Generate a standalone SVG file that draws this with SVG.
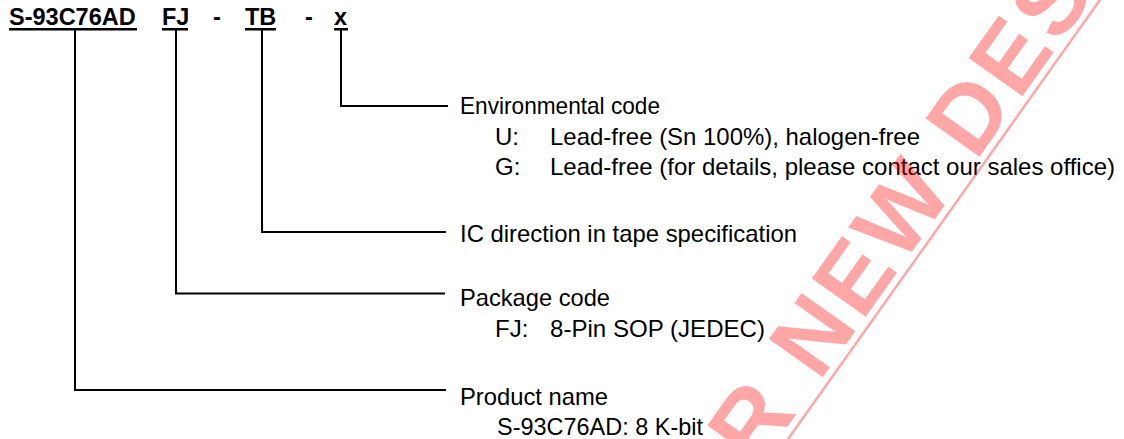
<svg xmlns="http://www.w3.org/2000/svg" width="1124" height="439" viewBox="0 0 1124 439">
  <style>
    .hdr { font-family: "Liberation Sans", Arial, sans-serif; font-size: 23.5px; font-weight: bold; fill: #000; }
    .txt { font-family: "Liberation Sans", Arial, sans-serif; font-size: 24px; fill: #000; }
    .ul { fill: #000; }
    .conn { fill: none; stroke: #000; stroke-width: 2; }
    .wm { font-family: "Liberation Sans", Arial, sans-serif; font-size: 96px; font-weight: bold; fill: #ff0000; fill-opacity: 0.35; letter-spacing: 5px; }
    .wmline { stroke: #ff0000; stroke-opacity: 0.35; stroke-width: 2.5; }
  </style>
  <rect width="1124" height="439" fill="#fff"/>

  <g id="header">
    <text class="hdr" x="9" y="25">S-93C76AD</text>
    <rect class="ul" x="9" y="28" width="128" height="2.5"/>
    <text class="hdr" x="162" y="25">FJ</text>
    <rect class="ul" x="162" y="28" width="26" height="2.5"/>
    <text class="hdr" x="213" y="25">-</text>
    <text class="hdr" x="245" y="25">TB</text>
    <rect class="ul" x="245" y="28" width="31" height="2.5"/>
    <text class="hdr" x="305" y="25">-</text>
    <text class="hdr" x="334" y="25">x</text>
    <rect class="ul" x="334" y="28" width="14" height="2.5"/>
  </g>

  <g id="connectors">
    <polyline class="conn" points="341,30 341,106 448,106"/>
    <polyline class="conn" points="262,30 262,232 446,232"/>
    <polyline class="conn" points="176,30 176,293.5 445,293.5"/>
    <polyline class="conn" points="75,30 75,390 446,390"/>
  </g>

  <g id="env-code">
    <text class="txt" x="460" y="114" textLength="200" lengthAdjust="spacingAndGlyphs">Environmental code</text>
    <text class="txt" x="495" y="145">U:</text>
    <text class="txt" x="550" y="145" textLength="370" lengthAdjust="spacingAndGlyphs">Lead-free (Sn 100%), halogen-free</text>
    <text class="txt" x="495" y="175">G:</text>
    <text class="txt" x="550" y="175" textLength="565" lengthAdjust="spacingAndGlyphs">Lead-free (for details, please contact our sales office)</text>
  </g>

  <g id="ic-direction">
    <text class="txt" x="460" y="241.5" textLength="337" lengthAdjust="spacingAndGlyphs">IC direction in tape specification</text>
  </g>

  <g id="package-code">
    <text class="txt" x="460" y="305.5" textLength="150" lengthAdjust="spacingAndGlyphs">Package code</text>
    <text class="txt" x="495" y="337">FJ:</text>
    <text class="txt" x="550" y="337" textLength="215" lengthAdjust="spacingAndGlyphs">8-Pin SOP (JEDEC)</text>
  </g>

  <g id="product-name">
    <text class="txt" x="460" y="405" textLength="148" lengthAdjust="spacingAndGlyphs">Product name</text>
    <text class="txt" x="497" y="435" textLength="206" lengthAdjust="spacingAndGlyphs">S-93C76AD: 8 K-bit</text>
  </g>

  <g id="watermark">
    <text class="wm" transform="translate(757.6,469) rotate(-54.6)">R NEW DES</text>
    <line class="wmline" x1="781" y1="449" x2="1107" y2="-10"/>
  </g>
</svg>
